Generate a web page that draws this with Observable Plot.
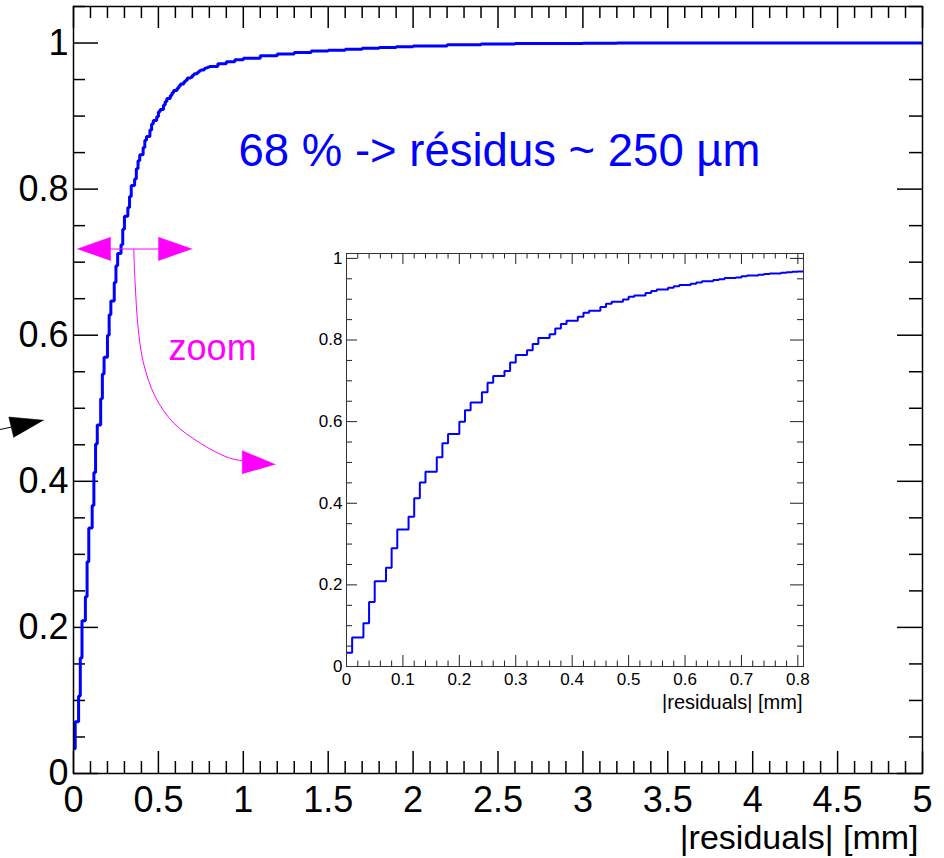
<!DOCTYPE html>
<html><head><meta charset="utf-8">
<script src="https://cdn.jsdelivr.net/npm/d3@7"></script>
<script src="https://cdn.jsdelivr.net/npm/@observablehq/plot@0.6"></script>
<style>
html,body{margin:0;padding:0;background:#fff;}
#wrap{position:relative;width:944px;height:858px;overflow:hidden;background:#fff;}
#main{position:absolute;left:0;top:0;}
#inset{position:absolute;left:306px;top:248px;}
</style></head>
<body><div id="wrap"><div id="main"></div><div id="inset"></div></div>
<script>
// ---------- data ----------
const binWidth = 0.01; // mm
// cumulative fraction per 0.01 mm bin, bins 0.00 .. 0.80
const cumFraction = [
  0.034,0.071,0.071,0.106,0.158,0.209,0.209,0.242,0.290,0.336,
  0.336,0.367,0.412,0.451,0.477,0.477,0.513,0.547,0.570,0.570,
  0.600,0.628,0.647,0.647,0.672,0.695,0.712,0.712,0.724,0.745,
  0.763,0.763,0.775,0.790,0.805,0.805,0.814,0.828,0.839,0.847,
  0.847,0.857,0.867,0.872,0.872,0.881,0.889,0.894,0.894,0.899,
  0.906,0.909,0.909,0.915,0.920,0.924,0.924,0.928,0.932,0.935,
  0.935,0.938,0.941,0.944,0.944,0.947,0.949,0.952,0.952,0.953,
  0.956,0.958,0.958,0.960,0.962,0.963,0.963,0.965,0.966,0.967,
  0.968
];
// tail of the main curve beyond the inset range
const tailX = [0.85,0.90,0.95,1.00,1.10,1.20,1.30,1.40,1.50,1.60,1.70,1.80,1.90,2.00,2.20,2.40,2.60,2.80,3.00,3.20];
const tailY = [0.9715,0.9745,0.977,0.979,0.9825,0.985,0.987,0.989,0.990,0.9915,0.993,0.994,0.995,0.996,0.9975,0.9985,0.9992,0.9995,0.9997,1.000];
const mainXMax = 5;

const mainXTicks = [0,0.5,1,1.5,2,2.5,3,3.5,4,4.5,5];
const mainYTicks = [0,0.2,0.4,0.6,0.8,1];
const insetXTicks = [0,0.1,0.2,0.3,0.4,0.5,0.6,0.7,0.8];
const insetYTicks = [0,0.2,0.4,0.6,0.8,1];

const xTitle = "|residuals| [mm]";
const noteText = "68 % -> résidus ~ 250 µm";
const zoomText = "zoom";

// annotation geometry (data units of main panel)
const notePos = [0.972, 0.852];
const zoomTextPos = [0.56, 0.5815];
const headLeft = [[0.022,0.718],[0.218,0.734],[0.218,0.702]];
const headRight = [[0.699,0.718],[0.501,0.734],[0.501,0.702]];
const zoomBar = [[0.218,0.718],[0.501,0.718]];
const zoomCurve = [[0.355,0.718],[0.362,0.675],[0.382,0.607],[0.412,0.562],[0.481,0.516],[0.589,0.480],[0.748,0.452],[0.905,0.433],[0.994,0.428]];
const zoomHead = [[1.189,0.423],[0.994,0.442],[0.994,0.410]];
const strayLine = [[-0.43,0.471],[-0.37,0.474]];
const strayHead = [[-0.175,0.4836],[-0.381,0.488],[-0.352,0.460]];

// ---------- build ----------
const fmt = d3.format("~g");
const BLUE = "#0000ff", MAG = "#ff00ff";

const binStarts = cumFraction.map((v, i) => +(i * binWidth).toFixed(2));
const insetPts = binStarts.map((x, i) => ({x, y: cumFraction[i]}));
insetPts.push({x: cumFraction.length * binWidth, y: cumFraction[cumFraction.length - 1]});
const mainPts = insetPts.slice(0, -1).concat(
  [{x: cumFraction.length * binWidth, y: cumFraction[cumFraction.length - 1]}],
  tailX.map((x, i) => ({x, y: tailY[i]})),
  [{x: mainXMax, y: tailY[tailY.length - 1]}]
);

function minorTicks(lo, hi, step, majors) {
  const out = [];
  const n = Math.round((hi - lo) / step);
  for (let i = 0; i <= n; i++) {
    const v = +(lo + i * step).toFixed(4);
    if (!majors.some(m => Math.abs(m - v) < 1e-9)) out.push(v);
  }
  return out;
}

// main panel
const W = 944, H = 858, mL = 73, mR = 22, mT = 6, mB = 85;
const fw = W - mL - mR, fh = H - mT - mB;
const mainXMinor = minorTicks(0, 5, 0.1, mainXTicks);
const mainYMinor = minorTicks(0, 1.05, 0.05, mainYTicks);
const P = d => d[0], Q = d => d[1];

const main = Plot.plot({
  width: W, height: H,
  marginLeft: mL, marginRight: mR, marginTop: mT, marginBottom: mB,
  x: {domain: [0, 5], axis: null},
  y: {domain: [0, 1.05], axis: null},
  style: {fontFamily: "'Liberation Sans', Arial, sans-serif", background: "transparent", overflow: "visible"},
  marks: [
    // ticks
    Plot.ruleX(mainXTicks, {x: d => d, insetTop: fh - 22, stroke: "black", strokeWidth: 1.5}),
    Plot.ruleX(mainXMinor, {x: d => d, insetTop: fh - 12, stroke: "black", strokeWidth: 1.5}),
    Plot.ruleX(mainXTicks, {x: d => d, insetBottom: fh - 22, stroke: "black", strokeWidth: 1.5}),
    Plot.ruleX(mainXMinor, {x: d => d, insetBottom: fh - 12, stroke: "black", strokeWidth: 1.5}),
    Plot.ruleY(mainYTicks, {y: d => d, insetRight: fw - 25, stroke: "black", strokeWidth: 1.5}),
    Plot.ruleY(mainYMinor, {y: d => d, insetRight: fw - 12, stroke: "black", strokeWidth: 1.5}),
    Plot.ruleY(mainYTicks, {y: d => d, insetLeft: fw - 25, stroke: "black", strokeWidth: 1.5}),
    Plot.ruleY(mainYMinor, {y: d => d, insetLeft: fw - 13, stroke: "black", strokeWidth: 1.5}),
    // labels
    Plot.text(mainXTicks, {x: d => d, frameAnchor: "bottom", lineAnchor: "top", dy: 13, text: d => fmt(d), fontSize: 36, fill: "black"}),
    Plot.text(mainYTicks, {y: d => d, frameAnchor: "left", textAnchor: "end", dx: -5, text: d => fmt(d), fontSize: 36, fill: "black"}),
    Plot.text([xTitle], {frameAnchor: "bottom-right", textAnchor: "end", lineAnchor: "top", dy: 51, dx: -4, text: d => d, fontSize: 34, fill: "black"}),
    // curve
    Plot.line(mainPts, {x: "x", y: "y", curve: "step-after", stroke: BLUE, strokeWidth: 3, strokeLinejoin: "miter", strokeLinecap: "butt"}),
    // annotations
    Plot.text([noteText], {x: () => notePos[0], y: () => notePos[1], textAnchor: "start", text: d => d, fontSize: 45.5, fill: BLUE}),
    Plot.text([zoomText], {x: () => zoomTextPos[0], y: () => zoomTextPos[1], textAnchor: "start", text: d => d, fontSize: 36, fill: MAG}),
    Plot.line(zoomBar, {x: P, y: Q, stroke: MAG, strokeWidth: 1}),
    Plot.line(headLeft, {x: P, y: Q, fill: MAG, stroke: MAG, strokeWidth: 0.5}),
    Plot.line(headRight, {x: P, y: Q, fill: MAG, stroke: MAG, strokeWidth: 0.5}),
    Plot.line(zoomCurve, {x: P, y: Q, curve: "catmull-rom", stroke: MAG, strokeWidth: 1}),
    Plot.line(zoomHead, {x: P, y: Q, fill: MAG, stroke: MAG, strokeWidth: 0.5}),
    Plot.line(strayLine, {x: P, y: Q, stroke: "black", strokeWidth: 1}),
    Plot.line(strayHead, {x: P, y: Q, fill: "black", stroke: "black", strokeWidth: 0.5}),
    Plot.frame({stroke: "black", strokeWidth: 1.5})
  ]
});
document.getElementById("main").appendChild(main);

// inset panel
const iW = 505, iH = 470, iL = 40, iR = 8, iT = 5, iB = 52;
const ifw = iW - iL - iR, ifh = iH - iT - iB;
const insetXMinor = minorTicks(0, 0.8, 0.02, insetXTicks);
const insetYMinor = minorTicks(0, 1.0, 0.05, insetYTicks);
const TK = "#222";
const inset = Plot.plot({
  width: iW, height: iH,
  marginLeft: iL, marginRight: iR, marginTop: iT, marginBottom: iB,
  x: {domain: [0, 0.81], axis: null},
  y: {domain: [0, 1.012], axis: null},
  style: {fontFamily: "'Liberation Sans', Arial, sans-serif", background: "transparent", overflow: "visible"},
  marks: [
    Plot.frame({fill: "white", stroke: "none"}),
    Plot.ruleX(insetXTicks, {x: d => d, insetTop: ifh - 11, stroke: TK, strokeWidth: 1}),
    Plot.ruleX(insetXMinor, {x: d => d, insetTop: ifh - 5.5, stroke: TK, strokeWidth: 1}),
    Plot.ruleX(insetXTicks, {x: d => d, insetBottom: ifh - 11, stroke: TK, strokeWidth: 1}),
    Plot.ruleX(insetXMinor, {x: d => d, insetBottom: ifh - 5.5, stroke: TK, strokeWidth: 1}),
    Plot.ruleY(insetYTicks, {y: d => d, insetRight: ifw - 11, stroke: TK, strokeWidth: 1}),
    Plot.ruleY(insetYMinor, {y: d => d, insetRight: ifw - 6, stroke: TK, strokeWidth: 1}),
    Plot.ruleY(insetYTicks, {y: d => d, insetLeft: ifw - 13, stroke: TK, strokeWidth: 1}),
    Plot.ruleY(insetYMinor, {y: d => d, insetLeft: ifw - 6, stroke: TK, strokeWidth: 1}),
    Plot.text(insetXTicks, {x: d => d, frameAnchor: "bottom", lineAnchor: "top", dy: 6, text: d => fmt(d), fontSize: 17, fill: "black"}),
    Plot.text(insetYTicks, {y: d => d, frameAnchor: "left", textAnchor: "end", dx: -4, text: d => fmt(d), fontSize: 17, fill: "black"}),
    Plot.text([xTitle], {frameAnchor: "bottom-right", textAnchor: "end", lineAnchor: "top", dy: 28, dx: -1, text: d => d, fontSize: 20, fill: "black"}),
    Plot.line(insetPts, {x: "x", y: "y", curve: "step-after", stroke: BLUE, strokeWidth: 2, strokeLinejoin: "miter", strokeLinecap: "butt"}),
    Plot.frame({stroke: "#333", strokeWidth: 1})
  ]
});
document.getElementById("inset").appendChild(inset);
</script>
</body></html>
